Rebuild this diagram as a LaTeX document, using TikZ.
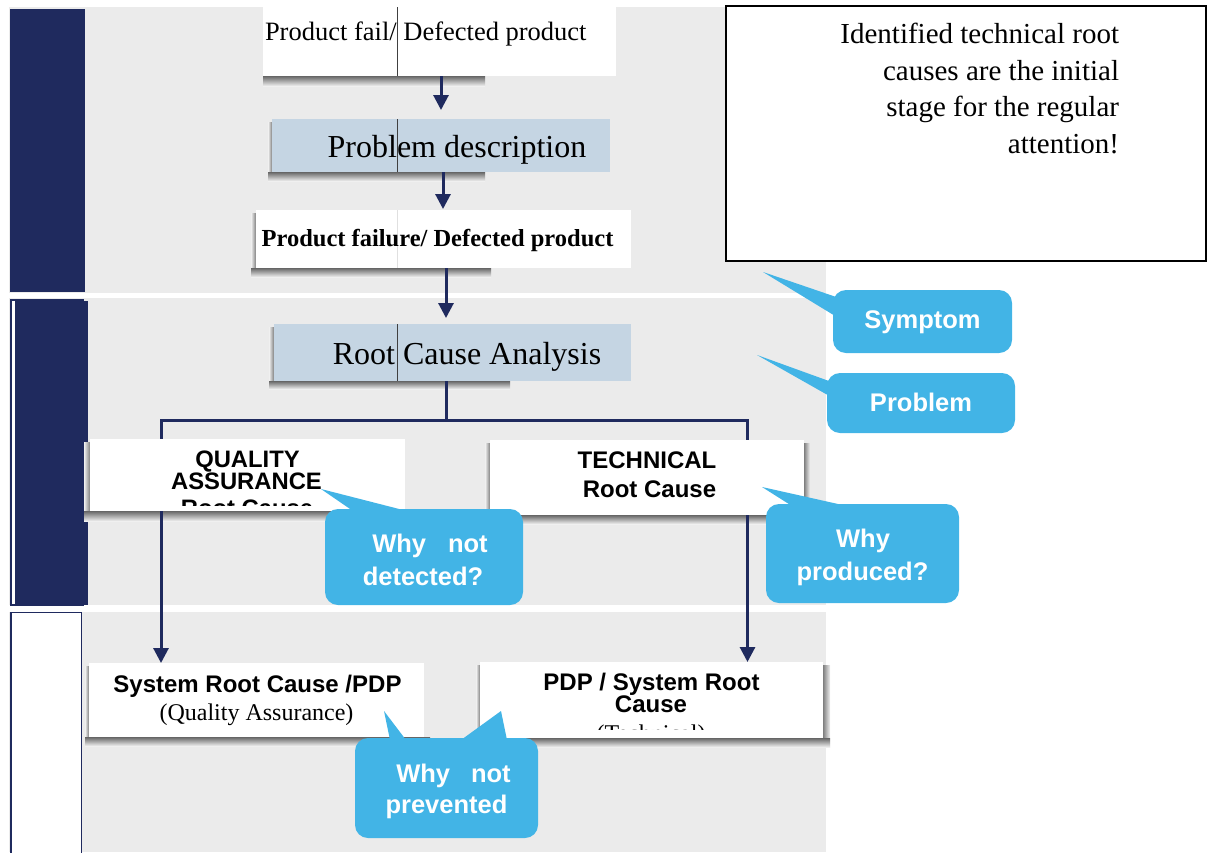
\documentclass[tikz,border=0pt]{standalone}
\usepackage{fontspec}
\setmainfont{Liberation Serif}
\setsansfont{Liberation Sans}
\usetikzlibrary{arrows.meta}
\definecolor{navy}{HTML}{1F2A5E}
\definecolor{bandgray}{HTML}{EBEBEB}
\definecolor{paleblue}{HTML}{C5D5E3}
\definecolor{callblue}{HTML}{42B4E6}
\pgfdeclarelayer{bg}
\pgfdeclarelayer{lines}
\pgfsetlayers{bg,lines,main}

\begin{document}
\begin{tikzpicture}[x=1pt,y=-1pt,
  band/.style={fill=bandgray},
  boxw/.style={fill=white, inner sep=0pt, outer sep=0pt, anchor=north west},
  boxb/.style={boxw, fill=paleblue},
  notebox/.style={boxw, draw=black, line width=1.6pt},
  callbox/.style={boxw, fill=callblue, rounded corners=13pt},
  callptr/.style={fill=callblue},
  flow/.style={draw=navy, line width=3pt},
  arr/.style={flow, -{Triangle[width=15pt,length=15pt]}},
  txt/.style={inner sep=0pt, outer sep=0pt, anchor=base},
  serifmid/.style={txt, font=\fontsize{26.5}{30}\selectfont},
  serifbig/.style={txt, font=\fontsize{32}{36}\selectfont},
  serifbold/.style={txt, font=\bfseries\fontsize{24.5}{28}\selectfont},
  serifnote/.style={txt, anchor=base east, font=\fontsize{29}{33}\selectfont},
  serifsmall/.style={txt, font=\fontsize{24}{28}\selectfont},
  sansbold/.style={txt, font=\sffamily\bfseries\fontsize{24}{28}\selectfont},
  calltxt/.style={txt, text=white, font=\sffamily\bfseries\fontsize{25.5}{30}\selectfont},
  shadeb/.style={top color=black!60, bottom color=black!6},
  shadel/.style={left color=black!6, right color=black!50},
  shader/.style={left color=black!50, right color=black!6},
  seam/.style={draw=black!75, line width=0.8pt},
  seamlight/.style={draw=black!12, line width=0.8pt}]

\useasboundingbox (0,0) rectangle (1207,852);

% ---- swim-lane bands and their left markers
\begin{pgfonlayer}{bg}
  \fill[band] (9,7) rectangle (826,293);
  \fill[navy] (10,9) rectangle (85,292);
  \fill[band] (9,298) rectangle (826,605);
  \fill[white] (10,299) rectangle (83,605);
  \draw[navy, line width=2pt] (10.5,300) rectangle (83,605);
  \fill[navy] (15,301) rectangle (88,605);
  \fill[band] (9,612) rectangle (826,852);
  \fill[white] (11,612) rectangle (82,860);
  \draw[navy, line width=1.5pt] (11,612.5) rectangle (81.5,860);

  % soft shadows under the boxes
  \shade[shadeb] (263,76) rectangle (485,86);
  \shade[shadel] (268,122) rectangle (272,180);
  \shade[shadeb] (268,172) rectangle (485,181);
  \shade[shadel] (251,213) rectangle (256,277);
  \shade[shadeb] (251,268) rectangle (491,277);
  \shade[shadel] (269,327) rectangle (274,389);
  \shade[shadeb] (269,381) rectangle (510,389);
  \shade[shadel] (84,442) rectangle (90,521);
  \shade[shadeb] (84,511) rectangle (405,521);
  \shade[shadel] (485,443) rectangle (490,523);
  \shade[shader] (804,443) rectangle (810,523);
  \shade[shadeb] (485,515) rectangle (810,524);
  \shade[shadel] (85,666) rectangle (89,746);
  \shade[shadeb] (85,737) rectangle (430,746);
  \shade[shadel] (476,665) rectangle (480,747);
  \shade[shader] (823,665) rectangle (830,747);
  \shade[shadeb] (476,738) rectangle (830,747);
\end{pgfonlayer}

% ---- boxes
\node[boxw, minimum width=353pt, minimum height=69pt] (b1) at (263,7) {};
\node[boxb, minimum width=338pt, minimum height=53pt] (b2) at (272,119) {};
\node[boxw, minimum width=375pt, minimum height=58pt] (b3) at (256,210) {};
\node[boxb, minimum width=357pt, minimum height=57pt] (rca) at (274,324) {};
\node[boxw, minimum width=315pt, minimum height=72pt] (qa) at (90,439) {};
\node[boxw, minimum width=314pt, minimum height=75pt] (tech) at (490,440) {};
\node[boxw, minimum width=335pt, minimum height=74pt] (sys) at (89,663) {};
\node[boxw, minimum width=343pt, minimum height=76pt] (pdp) at (480,662) {};
\node[notebox, minimum width=480pt, minimum height=255pt] (note) at (726,6) {};

% vertical seam running through the upper boxes
\coordinate (seamx) at (397,0);
\draw[seam] (b1.north -| seamx) -- (b1.south -| seamx);
\draw[seam] (b2.north -| seamx) -- (b2.south -| seamx);
\draw[seamlight] (b3.north -| seamx) -- (b3.south -| seamx);
\draw[seam] (rca.north -| seamx) -- (rca.south -| seamx);

% ---- box texts
\node[serifmid, anchor=base west] (t1) at (265,40.5) {Product fail/ Defected product};
\node[serifbig] (t2) at (457,157) {Problem description};
\node[serifbold] (t3) at (437.5,246) {Product failure/ Defected product};
\node[serifbig] (t4) at (467,364) {Root Cause Analysis};

\begin{scope}
  \clip (qa.north west) rectangle (405,505);
  \node[sansbold, font=\sffamily\bfseries\fontsize{23.8}{28}\selectfont] (qa1) at (247.5,467) {QUALITY};
  \node[sansbold, font=\sffamily\bfseries\fontsize{23.8}{28}\selectfont] (qa2) at (246.5,489) {ASSURANCE};
  \node[sansbold, font=\sffamily\bfseries\fontsize{23.8}{28}\selectfont] (qa3) at (247,516) {Root Cause};
\end{scope}

\node[sansbold] (te1) at (647,468) {TECHNICAL};
\node[sansbold] (te2) at (649.5,497) {Root Cause};

\node[sansbold] (sy1) at (257.5,692) {System Root Cause /PDP};
\node[serifsmall] (sy2) at (256.5,720.5) {(Quality Assurance)};

\node[sansbold] (pd1) at (651.5,690) {PDP / System Root};
\node[sansbold] (pd2) at (651,712) {Cause};
\begin{scope}
  \clip (pdp.north west) rectangle (823,729);
  \node[serifsmall] (pd3) at (651,741) {(Technical)};
\end{scope}

\node[serifnote] (n1) at (1119,43.5) {Identified technical root};
\node[serifnote] (n2) at (1119,80) {causes are the initial};
\node[serifnote] (n3) at (1119,116.5) {stage for the regular};
\node[serifnote] (n4) at (1119,153.5) {attention!};

% ---- flow connectors
\coordinate (a1) at (441,0);
\coordinate (a2) at (443,0);
\coordinate (a3) at (446,0);
\coordinate (split) at (446,420);
\coordinate (lcol) at (161,0);
\coordinate (rcol) at (747.5,0);
\begin{pgfonlayer}{lines}
  \draw[arr, shorten >=9pt] (b1.south -| a1) -- (b2.north -| a1);
  \draw[arr, shorten >=1pt] (b2.south -| a2) -- (b3.north -| a2);
  \draw[arr, shorten >=6pt] (b3.south -| a3) -- (rca.north -| a3);
  \draw[flow] (rca.south -| split) -- (split);
  \draw[arr] (split) -| (sys.north -| lcol);
  \draw[arr] (split) -| (pdp.north -| rcol);
\end{pgfonlayer}

% ---- callouts
\node[callbox, minimum width=198pt, minimum height=96pt] (cd) at (325,509) {};
\coordinate (cdtip) at (321,489);
\fill[callptr] (cdtip) -- (353,511) -- (407,511) -- cycle;
\node[calltxt] (cd1) at (430,552) {Why\hspace{22pt}not};
\node[calltxt] (cd2) at (423,585) {detected?};

\node[callbox, minimum width=193pt, minimum height=99pt] (cp) at (766,504) {};
\coordinate (cptip) at (762,487);
\fill[callptr] (cptip) -- (792,506) -- (847,506) -- cycle;
\node[calltxt] (cp1) at (863,547) {Why};
\node[calltxt] (cp2) at (862.5,580) {produced?};

\node[callbox, minimum width=179pt, minimum height=63pt] (cs) at (833,290) {};
\coordinate (cstip) at (763,272);
\fill[callptr] (cstip) -- (845,300) -- (845,322) -- cycle;
\node[calltxt] (cs1) at (922.5,328) {Symptom};

\node[callbox, minimum width=188pt, minimum height=60pt] (cr) at (827,373) {};
\coordinate (crtip) at (757,355);
\fill[callptr] (crtip) -- (840,385) -- (840,402) -- cycle;
\node[calltxt] (cr1) at (921,411.5) {Problem};

\node[callbox, minimum width=183pt, minimum height=100pt] (cv) at (355,738) {};
\coordinate (cvtipl) at (384,711);
\coordinate (cvtipr) at (501,711);
\fill[callptr] (cvtipl) -- (390,740) -- (406,740) -- cycle;
\fill[callptr] (cvtipr) -- (461,740) -- (507,740) -- cycle;
\node[calltxt] (cv1) at (453.5,782) {Why\hspace{21pt}not};
\node[calltxt] (cv2) at (446.5,813) {prevented};

\end{tikzpicture}
\end{document}
